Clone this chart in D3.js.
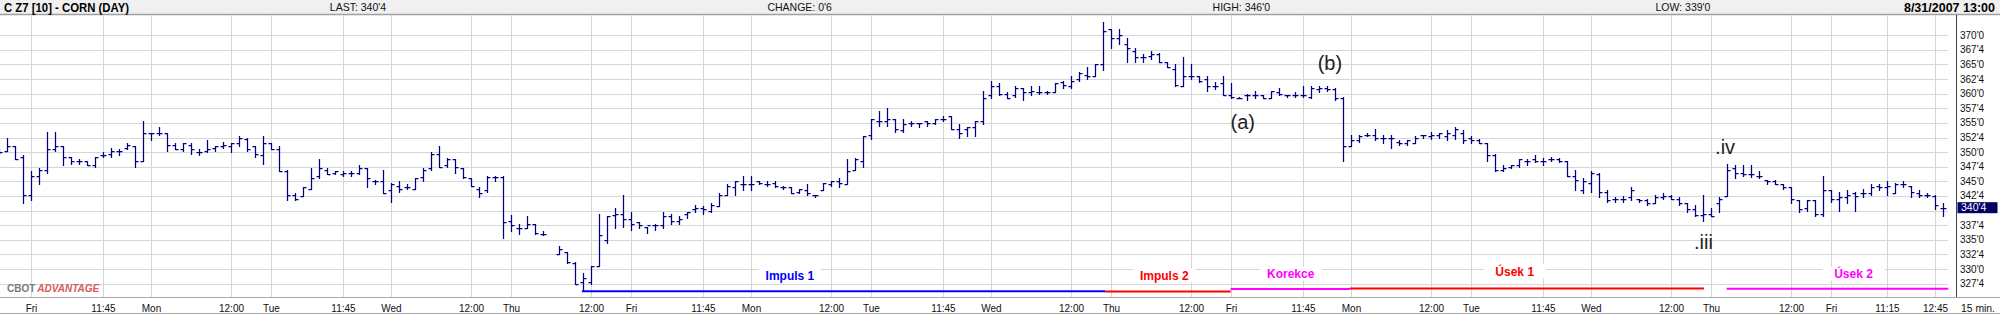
<!DOCTYPE html>
<html>
<head>
<meta charset="utf-8">
<script src="https://cdn.jsdelivr.net/npm/d3@7"></script>
<style>
  html, body { margin: 0; padding: 0; background: #fff; }
  svg { display: block; font-family: "Liberation Sans", Arial, sans-serif; }
</style>
</head>
<body>
<div id="chart"></div>
<script>
const width = 2000;
const height = 314;

// 15 min bars, C Z7 corn. index 0 of the arrays is bar -1 (cut at the left edge)
const firstBar = -1;
const open = [
  350, 350.25, 351, 349.25, 342.75, 346, 347, 350.5, 351, 349.25,
  348.5, 348.5, 347.75, 349.5, 349.75, 350.25, 350.75, 351, 348.5, 353.25,
  353.25, 353.25, 351.25, 350.5, 351.25, 350, 350.25, 350.75, 351, 351,
  351.5, 352.25, 351, 349.5, 351.5, 350.5, 346.75, 342.75, 342.5, 343.75,
  346, 347, 346.5, 346.25, 346.5, 346.5, 347.25, 345, 345, 343.5,
  344.25, 344, 343.75, 345.75, 347.25, 349.75, 347.75, 348.75, 347.25, 345.5,
  343.75, 343.5, 345.75, 345.75, 338.25, 337, 337, 337.75, 336, null,
  332.5, 333, 331, 327.75, 327.75, 330.5, 335, 339.25, 339.5, 338.5,
  338, 337.25, 337.5, 337.5, 339, 338.25, 339.5, 340.25, 340.5, 340,
  340.75, 342.75, 344, 344.5, 344.5, 345, 344.5, 344.75, 344, 344,
  343.25, 343.5, 342.75, 343.5, 344.5, 345, 344.5, 347, 348.5, 353,
  355.25, 355.25, 355.75, 353.75, 355, 355, 355.25, 355, 355.75, 356.25,
  354, 354, 354.25, 355.25, 359.75, 361.25, 360, 359.75, 361, 360.25,
  360.25, 360.25, 360.25, 362, 361.25, 362.5, 363.25, 363, 365, 371,
  369.5, 368.5, 367.25, 366.25, 366.5, 366.75, 365.5, 364.25, 361.25, 363,
  363, 362.5, 361.25, 361.75, 359.75, 359.25, 359.75, 359.75, 359.75, 359.25,
  360.25, 359.75, 359.75, 359.75, 359.5, 360.75, 361, 360.75, 359.25, 351,
  352, 353, 353, 352.5, 352.5, 351.75, 351.5, 351.5, 353, 352.75,
  353, 352.75, 353, 353.25, 352.5, 352, 351.5, 349.5, 347, 347.5,
  347.75, 348.5, 348.75, 348.5, 348.75, 348.75, 348.5, 346, 343.5, 344.75,
  346.25, 343.25, 342, 342, 342.25, 342, 341.75, 341.25, 342.25, 342.5,
  342, 341.25, 340.25, 339.25, 339.5, 341.25, 342.5, 347.25, 346.5, 346.25,
  346, 345.25, 345, 344.5, 344, 341.75, 340.5, 341.75, 339.5, 343.5,
  342, 342.25, 343, 343, 343, 344.25, 344, 343, 344.5, 344.25,
  343, 342.75, 342.5, 340.5
];
const high = [
  350.5, 352.5, 351, 349.5, 346.75, 347.25, 353.5, 353.5, 351, 349.25,
  348.75, 348.5, 349.25, 350, 350.75, 350.5, 351.5, 351, 355.25, 353.25,
  354.25, 353.25, 351.5, 351.5, 351.5, 350.5, 352, 351, 351.75, 351.5,
  352.75, 352.5, 351, 352.75, 351.5, 351, 347, 343, 344, 347.25,
  348.75, 347.25, 346.75, 346.75, 346.75, 347.75, 347.25, 345.25, 347, 344.75,
  345, 344.5, 345.5, 347.25, 350, 351, 349, 348.75, 347.25, 345.5,
  344, 346, 346, 346, 339.25, 337.75, 339, 337.75, 336.5, null,
  334, 333, 331.25, 329.25, 330.5, 339.5, 339, 340.5, 342.75, 339.75,
  338, 337.25, 337.75, 339.75, 339.5, 339, 339.75, 341, 340.75, 341.25,
  343, 344.5, 345, 346, 346, 345, 345, 345, 344.25, 344,
  343.75, 344.5, 342.75, 344.75, 345, 345.5, 348.75, 349, 352.75, 355.75,
  357, 357.5, 355.75, 355.75, 355.25, 355, 355.25, 355.75, 356.25, 356.25,
  354.75, 354.25, 355.25, 360.5, 362.25, 361.75, 360.25, 361.25, 361, 361.25,
  361.25, 360.5, 361.75, 362.25, 363, 363.75, 364.5, 365, 372.25, 371,
  371, 369.5, 367.75, 366.75, 367.25, 367, 365.5, 365, 366.25, 365,
  363, 363, 362, 363, 361.75, 359.5, 360, 360.5, 359.75, 360.5,
  361, 359.75, 360.25, 361.25, 361.25, 361.25, 361.25, 361, 359.5, 353,
  353, 353.25, 354, 353, 353, 352, 352, 352.75, 353, 353.5,
  353.25, 353.75, 354.25, 353.75, 352.75, 352.25, 351.5, 349.75, 347.75, 347.75,
  348.75, 348.75, 349.5, 349, 349.25, 349, 348.5, 347, 345.5, 346.75,
  346.5, 343.5, 342.25, 342.5, 344, 342, 342, 342.75, 343, 342.75,
  342.25, 341.25, 341, 342.75, 340.5, 342.25, 348, 347.75, 347.75, 347.75,
  346.75, 345.25, 345.25, 344.5, 344, 341.75, 341.75, 341.75, 346, 343.5,
  343.25, 343.5, 343.25, 343.75, 344.5, 344.5, 345, 344.75, 345, 344.25,
  343.5, 343, 342.75, 341.25
];
const low = [
  349.75, 350.25, 348.75, 341.25, 341.75, 344.5, 346.5, 350.25, 347.75, 348,
  348, 347.75, 347.5, 349.25, 349.25, 349.5, 350.5, 347.5, 348.5, 352,
  353, 350.25, 350.5, 350.25, 349.75, 349.5, 350, 350.25, 350.75, 350,
  351, 350.25, 349.25, 348, 350.5, 346.75, 341.75, 341.75, 342.5, 343.75,
  345.5, 346.25, 346.25, 346, 346, 346.25, 344, 344.5, 343, 341.5,
  343.25, 343.75, 343.75, 345, 347, 347.5, 347.5, 346.5, 345.5, 344.25,
  342.25, 343.25, 345, 335.25, 336.5, 336, 337, 336, 335.75, null,
  332.5, 331, 327.5, 326.5, 327.5, 330.5, 334.5, 337, 337.25, 336.75,
  337, 336.25, 336.75, 337, 337.75, 337.75, 338.75, 339.75, 339.5, 339.75,
  340.75, 342.75, 342.75, 343.5, 343.5, 344.5, 344.25, 344, 343.75, 343,
  343, 342.75, 342.25, 343.5, 344.25, 344, 344.5, 347, 347.5, 352.25,
  354.5, 354.5, 353.5, 353.5, 354.5, 354.25, 354.5, 354.75, 355.25, 354,
  352.5, 352.75, 352.75, 354.75, 359.25, 359.75, 359.25, 359.5, 359, 359.75,
  360, 360, 360.25, 361, 361, 362.25, 362.5, 363, 364, 367.75,
  368.5, 365.5, 365.5, 365.5, 366, 365.5, 364.5, 361.25, 361.25, 362.5,
  362, 360.5, 360.75, 359.75, 359.25, 359.25, 359, 359.25, 359.25, 359.25,
  359.75, 359.5, 359.5, 359.5, 359.25, 360.25, 360.5, 359, 348.5, 351,
  351.75, 352.75, 352, 351.5, 350.75, 351.25, 351.25, 351.5, 352.5, 352.25,
  352.5, 352, 352.25, 351.5, 351.5, 351.5, 348.5, 346.75, 346.75, 347.25,
  347.5, 347.75, 348.25, 347.75, 348.5, 348.25, 346, 343.5, 343, 343.25,
  342.25, 341.5, 341.5, 341.5, 341.75, 341.5, 341, 341.25, 342, 342,
  341, 339.75, 339, 338.25, 339, 339.75, 342.5, 345.5, 346, 345.75,
  345.5, 344.5, 344.5, 343.75, 341.25, 339.75, 340, 339, 339, 341.5,
  340, 341.25, 340, 342.25, 342.75, 343.5, 342.75, 343, 344, 342.25,
  342.25, 342.25, 340.25, 339
];
const close = [
  350, 351, 348.75, 342.75, 346, 347, 350.5, 351, 349.25, 348.5,
  348.5, 347.75, 349.25, 349.5, 350.25, 350.25, 351.25, 348.5, 353.25, 353.25,
  353.25, 351.25, 350.5, 351.5, 350.5, 350, 350.5, 351, 351.25, 351.5,
  352.5, 350.5, 349.75, 351.5, 350.5, 346.75, 342.75, 342, 344, 345.5,
  347.25, 346.25, 346.75, 346.5, 346.5, 347.25, 345.5, 345, 343, 344.5,
  343.75, 344, 345.5, 347, 349.75, 347.5, 348.75, 347.5, 345.75, 344.25,
  343, 345.75, 345.75, 338, 337.5, 337, 337.75, 336.25, 336, null,
  333.5, 331.25, 327.5, 328.5, 330.5, 335.75, 339, 339.5, 338.5, 337.75,
  337.5, 337.5, 337.5, 339, 338.25, 338.5, 339.75, 340.5, 340.25, 341,
  342.75, 344.25, 345, 344.5, 344.5, 344.75, 344.5, 344.25, 344, 343,
  343.75, 343, 342.75, 344.75, 345, 344.75, 346.75, 348.75, 352.75, 355.75,
  355.25, 355.75, 354, 354.75, 355, 355, 355, 355.75, 355.75, 354,
  353.25, 354.25, 355.25, 359.25, 361.25, 360, 359.25, 361, 360.25, 360.5,
  360.25, 360.25, 361.75, 361.5, 362.25, 363.5, 363, 365, 370.75, 369.5,
  370, 367.75, 366.25, 366.25, 366.75, 365.5, 364.5, 361.5, 363, 363,
  362.25, 361.25, 361.25, 359.75, 359.5, 359.25, 359.75, 359.75, 359.25, 360.5,
  360, 359.75, 359.75, 359.75, 361, 361, 360.75, 359.25, 351, 352,
  352.75, 353, 352.5, 352.5, 352.5, 351.5, 352, 352.5, 353, 353,
  353.25, 353.25, 354, 352, 352, 351.5, 349.5, 347, 347.25, 347.75,
  348.75, 348.5, 348.5, 348.5, 348.75, 348.5, 346, 345.25, 345, 346.5,
  343.25, 341.75, 342, 342, 343.5, 341.75, 341.25, 342.25, 342.5, 342,
  341.25, 340.25, 339.25, 339.5, 339, 342, 347, 346.5, 346.25, 346.25,
  346, 345, 344.5, 344, 342, 340.25, 341.75, 339.5, 343.5, 342,
  342.25, 342.75, 342.5, 343, 344, 344, 344.25, 344.5, 344.5, 343.25,
  342.75, 342.75, 341, 340.5
];

// time axis: bar index of each gridline and its label
const tickBars = [3, 12, 18, 28, 33, 42, 48, 58, 63, 73, 78, 87, 93, 103, 108, 117,
  123, 133, 138, 148, 153, 162, 168, 178, 183, 192, 198, 208, 213, 223, 228, 235, 241];
const tickLabels = ["Fri", "11:45", "Mon", "12:00", "Tue", "11:45", "Wed", "12:00",
  "Thu", "12:00", "Fri", "11:45", "Mon", "12:00", "Tue", "11:45", "Wed", "12:00",
  "Thu", "12:00", "Fri", "11:45", "Mon", "12:00", "Tue", "11:45", "Wed", "12:00",
  "Thu", "12:00", "Fri", "11:15", "12:45"];

// price axis
const priceTicks = [327.5, 330, 332.5, 335, 337.5, 340, 342.5, 345, 347.5, 350,
  352.5, 355, 357.5, 360, 362.5, 365, 367.5, 370];
const priceLabels = ["327'4", "330'0", "332'4", "335'0", "337'4", "340'0", "342'4", "345'0", "347'4", "350'0",
  "352'4", "355'0", "357'4", "360'0", "362'4", "365'0", "367'4", "370'0"];
const lastLabel = "340'4";

// header
const title = "C Z7 [10] - CORN (DAY)";
const stamp = "8/31/2007 13:00";
const headerTexts = ["LAST: 340'4", "CHANGE: 0'6", "HIGH: 346'0", "LOW: 339'0"];

// wave segments drawn under the bars
const segLabels = ["Impuls 1", "Impuls 2", "Korekce", "Úsek 1", "Úsek 2"];
const segColors = ["#0000ff", "#ff0000", "#ff00ff", "#ff0000", "#ff00ff"];
const segFrom = [71.8, 137.2, 152.9, 167.8, 214.9];
const segTo = [137.2, 152.9, 167.8, 212.05, 242.6];
const segLevel = [326.2, 326.15, 326.6, 326.7, 326.65];
const segLabelBar = [97.8, 144.6, 160.4, 188.4, 230.75];
const segLabelLevel = [328.9, 328.95, 329.2, 329.6, 329.2];

// wave marks
const noteTexts = ["(a)", "(b)", ".iv", ".iii"];
const noteBars = [154.4, 165.3, 214.7, 212.0];
const notePrices = [355.2, 365.3, 350.9, 334.7];

const plotRight = 1948;
const plotTop = 15;
const plotBottom = 297;
const axisX = 1956;

const svg = d3.select("#chart")
  .append("svg")
  .attr("width", width)
  .attr("height", height);

const x = d3.scaleLinear().domain([0, 242]).range([7.5, 1943.5]);
const y = d3.scaleLinear().domain([327.5, 370]).range([283.7, 35.2]);
const py = v => Math.round(y(v)) + 0.5;

// header band
svg.append("rect")
  .attr("width", width)
  .attr("height", 14)
  .attr("fill", "#f0f0f0");
svg.append("line")
  .attr("x1", 0).attr("x2", width)
  .attr("y1", 14.5).attr("y2", 14.5)
  .attr("stroke", "#a0a0a0")
  .attr("stroke-width", 1.5);

svg.append("text")
  .attr("x", 4).attr("y", 12)
  .attr("font-size", 12.5)
  .attr("font-weight", "bold")
  .attr("textLength", 125)
  .attr("lengthAdjust", "spacingAndGlyphs")
  .text(title);

svg.append("text")
  .attr("x", 1995).attr("y", 12)
  .attr("text-anchor", "end")
  .attr("font-size", 12.5)
  .attr("font-weight", "bold")
  .text(stamp);

const headerX = d3.scaleLinear().domain([0, 3]).range([358, 1683]);
svg.append("g")
  .selectAll("text")
  .data(headerTexts)
  .join("text")
  .attr("x", (d, i) => headerX(i))
  .attr("y", 11)
  .attr("text-anchor", "middle")
  .attr("font-size", 10.5)
  .attr("fill", "#111")
  .text(d => d);

// grid
const grid = svg.append("g")
  .attr("stroke", "#d6d6d6")
  .attr("shape-rendering", "crispEdges");

grid.selectAll("line.h")
  .data(priceTicks)
  .join("line")
  .attr("class", "h")
  .attr("x1", 0).attr("x2", plotRight)
  .attr("y1", d => py(d)).attr("y2", d => py(d));

grid.selectAll("line.v")
  .data(tickBars)
  .join("line")
  .attr("class", "v")
  .attr("x1", d => x(d)).attr("x2", d => x(d))
  .attr("y1", plotTop).attr("y2", plotBottom);

// logo
const logo = svg.append("text")
  .attr("x", 7).attr("y", 291.5)
  .attr("font-size", 10)
  .attr("font-weight", "bold");
logo.append("tspan").attr("fill", "#7a7a7a").text("CBOT");
logo.append("tspan").attr("dx", 2).attr("fill", "#d45c5c").attr("font-style", "italic").text("ADVANTAGE");

// segments with their labels
const seg = svg.append("g");
seg.selectAll("line")
  .data(segLabels)
  .join("line")
  .attr("x1", (d, i) => x(segFrom[i]))
  .attr("x2", (d, i) => x(segTo[i]))
  .attr("y1", (d, i) => y(segLevel[i]))
  .attr("y2", (d, i) => y(segLevel[i]))
  .attr("stroke", (d, i) => segColors[i])
  .attr("stroke-width", 2);

const segText = seg.selectAll("g")
  .data(segLabels)
  .join("g")
  .attr("transform", (d, i) => `translate(${x(segLabelBar[i])},${y(segLabelLevel[i])})`);
segText.append("rect")
  .attr("x", -31).attr("y", -7)
  .attr("width", 62).attr("height", 14)
  .attr("fill", "#fff");
segText.append("text")
  .attr("text-anchor", "middle")
  .attr("dy", "0.36em")
  .attr("font-size", 12)
  .attr("font-weight", "bold")
  .attr("fill", (d, i) => segColors[i])
  .text(d => d);

// OHLC bars
svg.append("clipPath")
  .attr("id", "plot-clip")
  .append("rect")
  .attr("x", 0).attr("y", plotTop)
  .attr("width", plotRight).attr("height", plotBottom - plotTop);

const barIndex = d3.range(open.length).filter(i => open[i] != null);
svg.append("g")
  .attr("clip-path", "url(#plot-clip)")
  .attr("fill", "none")
  .attr("stroke", "#000080")
  .attr("stroke-width", 1.25)
  .selectAll("path")
  .data(barIndex)
  .join("path")
  .attr("d", i => {
    const bx = x(i + firstBar);
    return `M${bx},${py(high[i]) - 0.5}V${py(low[i]) + 0.5}` +
      `M${bx - 3},${py(open[i])}H${bx}` +
      `M${bx},${py(close[i])}H${bx + 3}`;
  });

// wave marks
svg.append("g")
  .selectAll("text")
  .data(noteTexts)
  .join("text")
  .attr("x", (d, i) => x(noteBars[i]))
  .attr("y", (d, i) => y(notePrices[i]))
  .attr("dy", "0.35em")
  .attr("text-anchor", "middle")
  .attr("font-size", 20)
  .attr("fill", "#222")
  .text(d => d);

// axes frame
svg.append("line")
  .attr("x1", 0).attr("x2", width)
  .attr("y1", plotBottom + 0.5).attr("y2", plotBottom + 0.5)
  .attr("stroke", "#a8a8a8");
svg.append("line")
  .attr("x1", 0).attr("x2", width)
  .attr("y1", 313.5).attr("y2", 313.5)
  .attr("stroke", "#a8a8a8");
svg.append("line")
  .attr("x1", axisX + 0.5).attr("x2", axisX + 0.5)
  .attr("y1", plotTop).attr("y2", plotBottom)
  .attr("stroke", "#404040");

// price labels
const lastPrice = close[close.length - 1];
svg.append("g")
  .selectAll("text")
  .data(priceTicks.filter(d => Math.abs(d - lastPrice) > 1.25))
  .join("text")
  .attr("x", 1960)
  .attr("y", d => y(d))
  .attr("dy", "0.35em")
  .attr("font-size", 10)
  .attr("fill", "#111")
  .text(d => priceLabels[priceTicks.indexOf(d)]);

svg.append("rect")
  .attr("x", 1957.5).attr("y", y(lastPrice) - 5.5)
  .attr("width", 40).attr("height", 11)
  .attr("fill", "#000066");
svg.append("text")
  .attr("x", 1961).attr("y", y(lastPrice))
  .attr("dy", "0.36em")
  .attr("font-size", 10.5)
  .attr("fill", "#fff")
  .text(lastLabel);

// time labels
svg.append("g")
  .selectAll("text")
  .data(tickBars)
  .join("text")
  .attr("x", d => x(d))
  .attr("y", 311.5)
  .attr("text-anchor", "middle")
  .attr("font-size", 10)
  .attr("fill", "#111")
  .text((d, i) => tickLabels[i]);

svg.append("text")
  .attr("x", 1961).attr("y", 311.5)
  .attr("font-size", 10)
  .attr("textLength", 34)
  .attr("lengthAdjust", "spacingAndGlyphs")
  .attr("fill", "#111")
  .text("15 min.");
</script>
</body>
</html>
